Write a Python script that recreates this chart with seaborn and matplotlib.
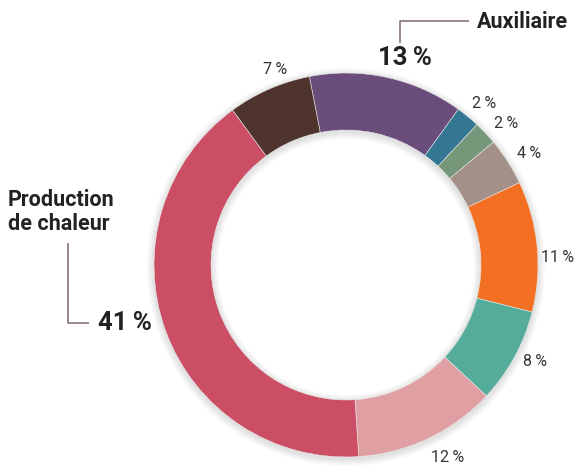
import matplotlib
matplotlib.use("Agg")
import matplotlib.pyplot as plt
import seaborn as sns

# ---- data ----
categories = ["Auxiliaire", "Cat2", "Cat3", "Cat4", "Cat5", "Cat6", "Cat7",
              "Production de chaleur", "Cat9"]
values = [13, 2, 2, 4, 11, 8, 12, 41, 7]
labels = ["13\u2009%", "2\u2009%", "2\u2009%", "4\u2009%", "11\u2009%", "8\u2009%",
          "12\u2009%", "41\u2009%", "7\u2009%"]
colors = ["#6A4D7B", "#337793", "#77977B", "#A39189", "#F37022",
          "#55AC9B", "#E0A0A3", "#CC4E65", "#4F342D"]

sns.set_theme(style="white")
plt.rcParams["font.family"] = ["Roboto", "DejaVu Sans"]

W, H = 577, 466
fig = plt.figure(figsize=(W / 100, H / 100), dpi=100)
ax = fig.add_axes([0, 0, 1, 1])

cx, cy, R = 346, 265, 192
width = 57

# soft shadow
for i in range(6):
    ax.pie([1], radius=R + 1 + i * 1.2, center=(cx, cy + 2), colors=["#000000"],
           wedgeprops=dict(width=width + 2 + i * 2.4, alpha=0.018, linewidth=0),
           frame=True)

wedges, _ = ax.pie(values, radius=R, center=(cx, cy), colors=colors,
                   startangle=-101, counterclock=True,
                   wedgeprops=dict(width=width, linewidth=0.4, edgecolor="#e8e8e8"),
                   frame=True)
ax.set_xlim(0, W)
ax.set_ylim(H, 0)
ax.set_aspect("equal")
ax.axis("off")

small = dict(fontsize=11.5, color="#333333", ha="center", va="center")
small_pos = {1: (484, 103), 2: (506, 123), 3: (529, 153), 4: (558, 257),
             5: (535, 361), 6: (448, 458), 8: (275, 70)}
for i, (x, y) in small_pos.items():
    ax.text(x, y, labels[i], **small)

big = dict(fontsize=18.5, fontweight="bold", color="#222222", va="center")
ax.text(405, 58, labels[0], ha="center", **big)
ax.text(125, 323, labels[7], ha="center", **big)

name = dict(fontsize=15.5, fontweight="bold", color="#222222")
ax.text(477, 22, categories[0], ha="left", va="center", **name)
ax.text(8, 212, "Production\nde chaleur", ha="left", va="center",
        linespacing=1.15, **name)

lc = "#7F6B67"
ax.plot([400, 400, 469], [43, 21, 21], color=lc, lw=1.1, solid_capstyle="butt")
ax.plot([68, 68, 89], [243, 323, 323], color=lc, lw=1.1, solid_capstyle="butt")

fig.savefig("out.png", dpi=100)
